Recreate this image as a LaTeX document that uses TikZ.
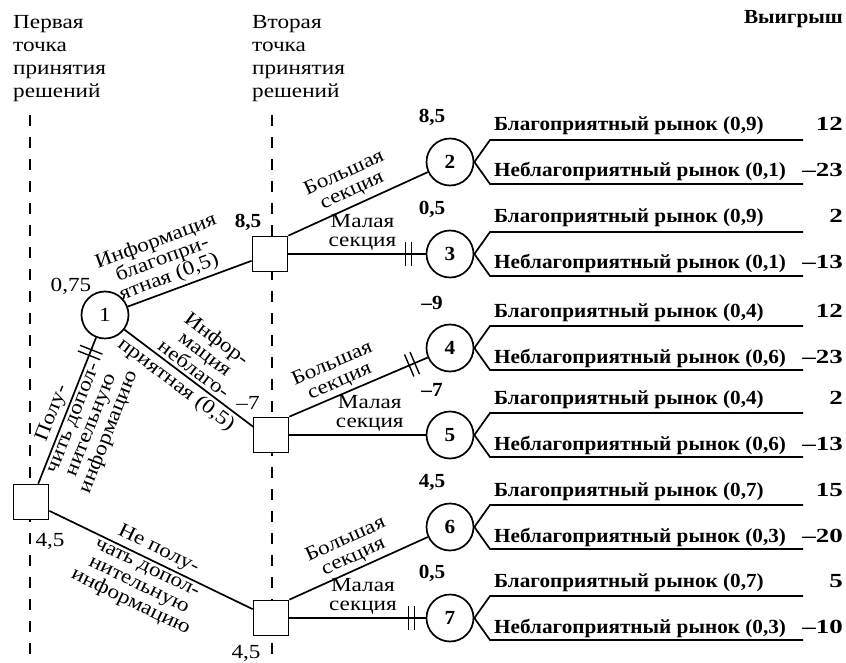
\documentclass[tikz,border=0pt]{standalone}
\usepackage{fontspec}
\setmainfont{Liberation Serif}[FakeStretch=1.16]
\newfontfamily\boldfam{Liberation Serif}[FakeStretch=1.06]
\newfontfamily\payfam{Liberation Serif}[FakeStretch=1.35]
\usetikzlibrary{decorations.markings}
\begin{document}
\begin{tikzpicture}[x=1pt,y=-1pt,
  every node/.style={font=\fontsize{20}{23}\selectfont},
  box/.style={draw, line width=1.7pt, fill=white, minimum size=35pt, inner sep=0pt},
  chance/.style={draw, circle, line width=1.7pt, fill=white, minimum size=47pt, inner sep=0pt, font=\fontsize{20}{22}\boldfam\bfseries},
  conn/.style={line width=1.7pt},
  guide/.style={line width=2.6pt, dash pattern=on 11pt off 11pt},
  lab/.style={sloped, align=center, inner sep=3pt, font=\fontsize{20}{19}\selectfont},
  head/.style={align=left, anchor=north west, inner sep=0pt, font=\fontsize{20}{23}\selectfont},
  val/.style={inner sep=0pt, font=\fontsize{20}{22}\selectfont},
  bval/.style={inner sep=0pt, font=\fontsize{20}{22}\boldfam\bfseries},
  outlbl/.style={inner sep=0pt, font=\fontsize{20}{22}\boldfam\bfseries},
  paylbl/.style={inner sep=0pt, font=\fontsize{20}{22}\payfam\bfseries},
  dbar/.style={postaction={decorate, decoration={markings, mark=at position #1 with {\draw[line width=1.4pt] (-3pt,-12pt)--(-3pt,12pt) (3pt,-12pt)--(3pt,12pt);}}}}
]
\useasboundingbox (0,0) rectangle (846,663);

% dashed guide lines
\coordinate (g1t) at (30,115); \coordinate (g1b) at (30,663);
\coordinate (g2t) at (272,115); \coordinate (g2b) at (272,663);
\draw[guide] (g1t) -- (g1b);
\draw[guide] (g2t) -- (g2b);

% headers
\node[head] (h1) at (13,15) {Первая\\точка\\принятия\\решений};
\node[head] (h2) at (252,15) {Вторая\\точка\\принятия\\решений};
\node[head, anchor=north east, font=\fontsize{20}{23}\boldfam\bfseries] (h3) at (843,10) {Выигрыш};

% decision and chance nodes
\node[box] (R) at (31,502) {};
\node[chance, font=\fontsize{20}{22}\selectfont] (C1) at (105,315) {1};
\node[box] (S1) at (270,254) {};
\node[box] (S2) at (271,435) {};
\node[box] (S3) at (271,618) {};
\coordinate (S2in) at (253.5,427);

% outcome nodes
\foreach \n/\yc/\vv/\pu/\pl/\wu/\wl in {
  2/162/{8,5}/{0,9}/{0,1}/12/{–23},
  3/254/{0,5}/{0,9}/{0,1}/2/{–13},
  4/348/{–9}/{0,4}/{0,6}/12/{–23},
  5/435/{–7}/{0,4}/{0,6}/2/{–13},
  6/527/{4,5}/{0,7}/{0,3}/15/{–20},
  7/618/{0,5}/{0,7}/{0,3}/5/{–10}}
{
  \node[chance] (c\n) at (450,\yc) {\n};
  \coordinate (u\n) at (490,{\yc-22});
  \coordinate (ue\n) at (803,{\yc-22});
  \coordinate (l\n) at (490,{\yc+22});
  \coordinate (le\n) at (803,{\yc+22});
  \draw[conn] (c\n.east) -- (u\n) -- (ue\n);
  \draw[conn] (c\n.east) -- (l\n) -- (le\n);
  \node[outlbl, anchor=base west] (bu\n) at (494,{\yc-31}) {Благоприятный рынок (\pu)};
  \node[paylbl, anchor=base east] (wu\n) at (843,{\yc-31}) {\wu};
  \node[outlbl, anchor=base west] (bl\n) at (494,{\yc+15}) {Неблагоприятный рынок (\pl)};
  \node[paylbl, anchor=base east] (wl\n) at (843,{\yc+15}) {\wl};
  \node[bval] (v\n) at (432,{\yc-45}) {\vv};
}

% connectors from the first decision point
\draw[conn, dbar=-16pt] (R) --
  node[lab, above, pos=0.45] (lp1) {Полу-}
  node[lab, below, pos=0.47] (lp2) {чить допол-\\нительную\\информацию} (C1);
\draw[conn] (R) --
  node[lab, above, pos=0.51] (ln1) {Не полу-}
  node[lab, below, pos=0.5] (ln2) {чать допол-\\нительную\\информацию} (S3);

% connectors from chance node 1
\draw[conn] (C1) --
  node[lab, above, pos=0.37] (li1) {Информация\\благопри-\\ятная (0,5)} (S1);
\draw[conn] (C1) --
  node[lab, above, pos=0.49] (li2) {Инфор-\\мация\\неблаго-}
  node[lab, below, pos=0.46] (li3) {приятная (0,5)} (S2in);

% connectors from second decision points
\draw[conn] (S1.north east) -- node[lab, above, pos=0.5, inner sep=5pt] (lb1) {Большая\\секция} (c2);
\draw[conn, dbar=-17pt] (S1) -- node[lab, above, pos=0.54] (lm1) {Малая\\секция} (c3);
\draw[conn, dbar=-17pt] (S2.north east) -- node[lab, above, pos=0.4] (lb2) {Большая\\секция} (c4);
\draw[conn] (S2) -- node[lab, above, pos=0.59] (lm2) {Малая\\секция} (c5);
\draw[conn] (S3.north east) -- node[lab, above, pos=0.5] (lb3) {Большая\\секция} (c6);
\draw[conn, dbar=-14pt] (S3) -- node[lab, above, pos=0.54] (lm3) {Малая\\секция} (c7);

% values at decision points
\node[val] (vC1) at (71,286) {0,75};
\node[bval] (vS1) at (248,222) {8,5};
\node[val] (vS2) at (248,403) {–7};
\node[val] (vR) at (50,541) {4,5};
\node[val] (vS3) at (246,653) {4,5};
\end{tikzpicture}
\end{document}
